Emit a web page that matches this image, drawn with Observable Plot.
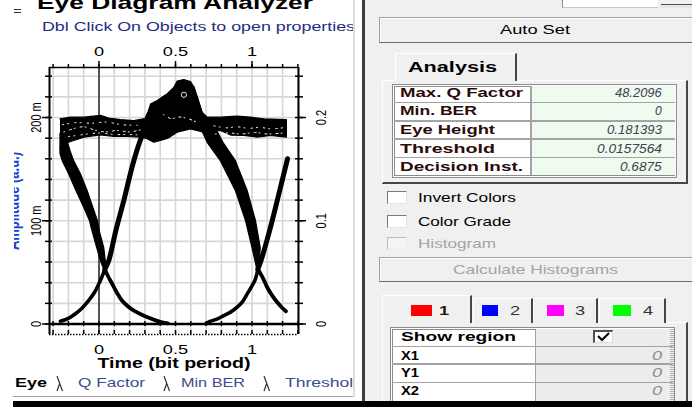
<!DOCTYPE html>
<html><head><meta charset="utf-8">
<script src="https://cdn.jsdelivr.net/npm/d3@7"></script>
<script src="https://cdn.jsdelivr.net/npm/@observablehq/plot@0.6"></script>
<style>
html,body{margin:0;padding:0;width:692px;height:407px;overflow:hidden;background:#fff;font-family:"Liberation Sans",Arial,sans-serif;}
#root{position:relative;width:692px;height:407px;overflow:hidden;}
.t{position:absolute;white-space:nowrap;}
</style></head>
<body><div id="root"></div>
<script>
// ---------------- chart data (t in bit periods, a in m-units) ----------------
const xGridTicks = [-0.3,-0.2,-0.1,0,0.1,0.2,0.3,0.4,0.5,0.6,0.7,0.8,0.9,1,1.1,1.2,1.3];
const xLabelTicks = [0, 0.5, 1];
const yGridTicks = [20,40,60,80,100,120,140,160,180,200,220,240];
const yMinorTicks = [0,20,40,60,80,100,120,140,160,180,200,220,240];
const yLabelTicks = [0, 100, 200];
const xTitle = "Time (bit period)";
const yTitle = "Amplitude (a.u.)";

// outline of the "1" level band with the overshoot bump (top edge, then bottom edge back)
const levelOneBand = [
 [-0.255,198.7],[-0.186,200.3],[-0.099,200.3],[0.01,202],[0.064,199.4],[0.14,198],[0.227,197],[0.3,199],
 [0.319,205],[0.337,213],[0.38,216.5],[0.446,223],[0.489,229],[0.511,235.3],[0.554,236.8],[0.598,234.9],
 [0.62,229.4],[0.642,219.7],[0.674,205],[0.707,200.3],[0.794,200.3],[0.903,201.3],[0.99,200.3],[1.077,198.7],[1.225,198],
 [1.225,181],[1.121,182.6],[1.034,181],[0.946,182.6],[0.86,183],[0.794,187.4],[0.72,186],[0.685,185.8],[0.598,189],
 [0.511,185.8],[0.45,180],[0.402,177.7],[0.358,176],[0.315,179.4],[0.271,181],[0.184,181.6],[0.097,181.6],[0.01,183.2],
 [-0.099,181],[-0.165,177.7],[-0.2,176],[-0.255,170]
];
// falling edge on the left (outline)
const fallLeft = [
 [-0.255,185],[-0.255,165],[-0.24,158],[-0.2,146],[-0.15,129],[-0.1,113],[-0.062,100],[-0.045,90],[-0.015,74],[0.012,60],[0.032,53],
 [0.045,56],[0.031,74],[0.002,90],[-0.01,100],[-0.045,115],[-0.077,129],[-0.12,145],[-0.165,158],[-0.19,168],[-0.21,178]
];
// falling edge from the bump on the right (outline)
const fallRight = [
 [0.62,230],[0.674,205],[0.76,190],[0.81,176],[0.892,158],[0.969,129],[1.023,100],[1.054,74],[1.046,58],
 [1.03,54],[1.0,74],[0.958,100],[0.892,129],[0.794,158],[0.707,176],[0.663,190],[0.63,214],[0.6,232]
];
const riseLeftFoot = [[-0.252,2.7],[-0.2,5.5],[-0.154,9.9],[-0.11,15.5],[-0.067,22.8],[-0.03,30.5],[-0.001,38.9],[0.02,46],[0.038,53]];
const riseLeftEdge = [[0.038,53],[0.064,61.5],[0.11,90.5],[0.162,119.6],[0.228,158.4],[0.282,182.6],[0.31,192]];
const decayLeft = [[0.038,53],[0.06,46],[0.086,39],[0.12,29.5],[0.15,22.8],[0.19,17],[0.228,13],[0.28,9],[0.326,6],[0.37,3.5],[0.413,1.7],[0.45,0.6]];
const riseRightFoot = [[0.70,0.5],[0.729,2.7],[0.775,5],[0.816,8.2],[0.86,11.5],[0.903,16.3],[0.94,22],[0.968,29],[1.0,37],[1.023,43.8],[1.038,53]];
const riseRightEdge = [[1.038,53],[1.06,62],[1.115,90.5],[1.165,119.6],[1.232,160]];
const decayRight = [[1.038,53],[1.07,45],[1.099,35.6],[1.13,28],[1.165,21],[1.195,16],[1.222,12.4]];
// light gaps inside the dense band
const gapA = [[-0.23,186],[-0.17,189],[-0.1,191],[-0.03,188],[0.04,186],[0.12,187.5],[0.2,186],[0.27,188]];
const gapB = [[-0.24,193],[-0.15,195],[-0.05,194.5],[0.05,195.5],[0.15,193],[0.25,192.5]];
const gapC = [[0.42,203],[0.47,199],[0.52,200.5],[0.58,199],[0.63,196]];
const gapD = [[0.75,192],[0.83,190],[0.9,191],[0.98,189.5],[1.05,190.5],[1.12,189],[1.2,190]];
const gapE = [[0.76,184],[0.85,185],[0.93,184],[1.02,185.5],[1.1,184],[1.2,185]];
const gapF = [[-0.2,181.5],[-0.1,183.5],[0,185],[0.1,183.5],[0.2,183.5],[0.28,183]];
const peakRing = [[0.555,222]];

// panel data
const titleText = "Eye Diagram Analyzer";
const subtitleText = "Dbl Click On Objects to open properties";
const bottomTabs = ["Eye", "Q Factor", "Min BER", "Threshold"];
const analysisLabels = ["Max. Q Factor", "Min. BER", "Eye Height", "Threshold", "Decision Inst."];
const analysisValues = ["48.2096", "0", "0.181393", "0.0157564", "0.6875"];
const optionLabels = ["Invert Colors", "Color Grade", "Histogram"];
const regionTabLabels = ["1", "2", "3", "4"];
const regionTabColors = ["#ff0000", "#0000ff", "#ff00ff", "#00ff00"];
const regionLabels = ["Show region", "X1", "Y1", "X2"];
const regionValues = ["", "0", "0", "0"];

// ---------------- plot ----------------
const XD = [-0.3235, 1.3039];
const YD = [-10.17, 248.43];
const PX = 1 / 153, PM = 1 / 1.0325;
const XY = {x: d => d[0], y: d => d[1]};
const SX = 1.4;

const svg = Plot.plot({
  width: 353, height: 407,
  marginLeft: 49, marginRight: 55, marginTop: 67, marginBottom: 73,
  style: {fontFamily: "'Liberation Sans', Arial, sans-serif", background: "transparent", overflow: "visible"},
  x: {domain: XD},
  y: {domain: YD},
  marks: [
    Plot.ruleX(xGridTicks, {stroke: "#d6d6d6", strokeWidth: 1.6}),
    Plot.ruleY(yGridTicks, {stroke: "#d6d6d6", strokeWidth: 1.6}),
    Plot.ruleX([0], {stroke: "#1a1a1a", strokeWidth: 1.4}),
    Plot.line(levelOneBand, {...XY, fill: "#000", stroke: "#000", strokeWidth: 1.2}),
    Plot.line(fallLeft, {...XY, fill: "#000", stroke: "#000", strokeWidth: 1.2}),
    Plot.line(fallRight, {...XY, fill: "#000", stroke: "#000", strokeWidth: 1.2}),
    Plot.line(riseLeftFoot, {...XY, stroke: "#000", strokeWidth: 3.6, curve: "catmull-rom"}),
    Plot.line(riseLeftEdge, {...XY, stroke: "#000", strokeWidth: 5, curve: "catmull-rom"}),
    Plot.line(decayLeft, {...XY, stroke: "#000", strokeWidth: 3.8, curve: "catmull-rom"}),
    Plot.line(riseRightFoot, {...XY, stroke: "#000", strokeWidth: 3.6, curve: "catmull-rom"}),
    Plot.line(riseRightEdge, {...XY, stroke: "#000", strokeWidth: 5, curve: "catmull-rom"}),
    Plot.line(decayRight, {...XY, stroke: "#000", strokeWidth: 3.8, curve: "catmull-rom"}),
    ...[gapA, gapB, gapC, gapD, gapE, gapF].map((g, i) => Plot.line(g, {...XY, stroke: "#fff", strokeWidth: 1, strokeDasharray: i % 2 ? "1.5,4,1,6" : "1,5,2,3", curve: "catmull-rom"})),
    Plot.dot(peakRing, {...XY, r: 2.6, stroke: "#fff", strokeWidth: 0.9, fill: "none"}),
    Plot.ruleY([0], {stroke: "#000", strokeWidth: 2.6}),
    // frame
    Plot.ruleX([XD[0]], {stroke: "#000", strokeWidth: 2}),
    Plot.ruleX([XD[1]], {stroke: "#000", strokeWidth: 2}),
    Plot.ruleY([YD[1]], {stroke: "#000", strokeWidth: 1.4}),
    Plot.ruleY([YD[0]], {stroke: "#000", strokeWidth: 1.5, strokeDasharray: "1.5,1.5"}),
    // ticks & axes
    Plot.axisX(xGridTicks, {anchor: "top", tickSize: 4, strokeWidth: 1.5, tickFormat: () => ""}),
    Plot.axisX(xLabelTicks, {anchor: "top", tickSize: 7, tickPadding: 5, strokeWidth: 1.5, fontSize: 13, tickFormat: d => String(d)}),
    Plot.axisX(xLabelTicks, {anchor: "bottom", tickSize: 0, tickPadding: 10.5, fontSize: 13, tickFormat: d => String(d)}),
    Plot.ruleX(xGridTicks, {y1: YD[0], y2: YD[0] + 4 * PM, stroke: "#000", strokeWidth: 1.5}),
    Plot.ruleX(xGridTicks, {y1: -2.5 * PM, y2: 2.5 * PM, stroke: "#000", strokeWidth: 1.5}),
    Plot.axisY(yMinorTicks, {anchor: "left", tickSize: 4, strokeWidth: 1.5, tickFormat: () => ""}),
    Plot.axisY(yLabelTicks, {anchor: "left", tickSize: 7, tickPadding: 2, strokeWidth: 1.5, tickRotate: -90, textAnchor: "middle", lineAnchor: "bottom", fontSize: 11, tickFormat: d => d === 0 ? "0" : `${d} m`}),
    Plot.ruleY(yMinorTicks, {x1: XD[0], x2: XD[0] + 3 * PX, stroke: "#000", strokeWidth: 1.5}),
    Plot.axisY(yMinorTicks, {anchor: "right", tickSize: 4, strokeWidth: 1.5, tickFormat: () => ""}),
    Plot.axisY(yLabelTicks, {anchor: "right", tickSize: 7, tickPadding: 10, strokeWidth: 1.5, tickRotate: -90, textAnchor: "middle", lineAnchor: "top", fontSize: 11, tickFormat: d => String(d / 1000)}),
    Plot.ruleY(yMinorTicks, {x1: XD[1] - 3 * PX, x2: XD[1], stroke: "#000", strokeWidth: 1.5}),
    Plot.text([xTitle], {text: d => d, frameAnchor: "bottom", dy: 29, lineAnchor: "middle", textAnchor: "middle", fontWeight: "bold", fontSize: 14, fill: "#000"}),
    Plot.text([yTitle], {text: d => d, frameAnchor: "left", dx: -31, rotate: -90, textAnchor: "middle", lineAnchor: "bottom", fill: "#1e3fd0", fontWeight: "bold", fontSize: 13})
  ]
});

const root = document.getElementById("root");
const wrap = document.createElement("div");
wrap.style.cssText = "position:absolute;left:0;top:0;";
wrap.appendChild(svg);
root.appendChild(wrap);

// stretch svg texts horizontally like the reference screenshot
svg.querySelectorAll("text").forEach(el => {
  const tr = el.getAttribute("transform");
  if (tr) {
    if (/rotate\(/.test(tr)) el.setAttribute("transform", tr.replace(/rotate\(/, `scale(${SX},1) rotate(`));
    else el.setAttribute("transform", tr + ` scale(${SX},1)`);
  } else {
    const x = +el.getAttribute("x") || 0, y = +el.getAttribute("y") || 0;
    el.setAttribute("transform", `translate(${x},${y}) scale(${SX},1) translate(${-x},${-y})`);
  }
});

// ---------------- UI chrome helpers ----------------
function box(x, y, w, h, css) {
  const d = document.createElement("div");
  d.style.cssText = `position:absolute;left:${x}px;top:${y}px;width:${w}px;height:${h}px;box-sizing:border-box;` + (css || "");
  root.appendChild(d);
  return d;
}
function T(str, o) {
  const d = document.createElement("div");
  d.className = "t";
  d.style.fontSize = o.size + "px";
  d.style.lineHeight = o.size + "px";
  d.style.top = (o.cy - 0.49 * o.size) + "px";
  d.style.left = "0px";
  if (o.weight) d.style.fontWeight = o.weight;
  if (o.italic) d.style.fontStyle = "italic";
  d.style.color = o.color || "#000";
  const s = document.createElement("span");
  s.textContent = str;
  s.style.display = "inline-block";
  s.style.transformOrigin = "0 0";
  d.appendChild(s);
  root.appendChild(d);
  const nat = s.getBoundingClientRect().width;
  const sx = o.w ? o.w / nat : SX;
  s.style.transform = `scaleX(${sx})`;
  let left = o.x;
  if (o.anchor === "end") left = o.x - nat * sx;
  else if (o.anchor === "middle") left = o.x - nat * sx / 2;
  d.style.left = left + "px";
  return d;
}

// left cover strip
box(0, 0, 14, 407, "background:#fff");
// menu icon
box(14, 8.8, 6.5, 1.6, "background:#333");
box(14, 11.6, 6.5, 1.6, "background:#333");
// title + subtitle
T(titleText, {x: 37, cy: 1.8, size: 19, weight: "bold", w: 276});
T(subtitleText, {x: 42, cy: 26, size: 13, w: 313, color: "#1f2c80"});
// bottom tabs
T(bottomTabs[0], {x: 15, cy: 382, size: 13, weight: "bold", w: 32});
T(bottomTabs[1], {x: 78, cy: 382, size: 13, w: 67, color: "#3d4d8e"});
T(bottomTabs[2], {x: 181, cy: 382, size: 13, w: 64, color: "#3d4d8e"});
T(bottomTabs[3], {x: 285, cy: 382, size: 13, w: 78, color: "#3d4d8e"});
box(13, 395.5, 349, 1.5, "background:#a0a0a0");

// divider
box(352.5, 0, 2.5, 397, "background:#dcdcdc");
box(355, 0, 7, 401, "background:#fff");
box(361.5, 0, 3, 401, "background:#3c3c3c");
box(364.5, 0, 327.5, 401, "background:#f0f0f0");

// top partial controls
box(562, -2, 96, 9.5, "background:#fff;border-left:1px solid #8a8a8a;border-bottom:1px solid #c8c8c8");
box(661, 4, 31, 4, "border-top:1.5px solid #505050;background:#e6e6e6");

const BTN = "background:#f0f0f0;border:1px solid #a0a0a0;border-bottom:1.5px solid #6a6a6a;box-shadow:inset 1px 1px 0 #fff";
box(379, 17, 320, 25.5, BTN);
T("Auto Set", {x: 535, anchor: "middle", cy: 29.7, size: 13, w: 70});

// Analysis panel
const TABCSS = "background:#f0f0f0;border-top:1px solid #fff;border-left:1px solid #fff;border-right:2px solid #454545";
box(382, 80, 306, 103.5, "border-top:1px solid #fff;border-left:1px solid #fff;border-right:2.5px solid #454545;border-bottom:2px solid #454545");
box(395, 53, 122, 28, TABCSS);
T("Analysis", {x: 408, cy: 66.7, size: 14, weight: "bold", w: 89});

box(392, 84, 285, 94, "border:3px double #8c8c8c;background:#fff");
box(531, 86, 143.5, 89, "background:#eefbee");
[101.7, 120, 138.3, 156.7].forEach(y => box(394, y, 281, 1.5, "background:#a4a4a4"));
box(530, 86, 1.5, 89, "background:#a4a4a4");
const aCy = [92, 110.5, 129.5, 148, 166.7];
const aLW = [123, 77, 95, 95, 123];
const aVW = [46.7, 6.7, 55, 65, 41.7];
analysisLabels.forEach((s, i) => T(s, {x: 400, cy: aCy[i], size: 13, weight: "bold", w: aLW[i], color: "#2b0b0b"}));
analysisValues.forEach((s, i) => T(s, {x: 662, anchor: "end", cy: aCy[i], size: 13, italic: true, w: aVW[i], color: "#404050"}));

// option checkboxes
const oCy = [197.5, 221, 243.7];
const oW = [98, 93, 78];
optionLabels.forEach((s, i) => {
  const dis = i === 2;
  box(387, oCy[i] - 6.3, 19.5, 13, dis
    ? "background:#f4f4f4;border-top:1px solid #bcbcbc;border-left:1px solid #bcbcbc;border-right:1px solid #eee;border-bottom:1px solid #eee"
    : "background:#fff;border-top:1px solid #7a7a7a;border-left:1px solid #7a7a7a;border-right:1px solid #e4e4e4;border-bottom:1px solid #e4e4e4");
  T(s, {x: 418, cy: oCy[i], size: 13, w: oW[i], color: dis ? "#a4a4a4" : "#000"});
});

box(379, 257, 320, 25, BTN);
T("Calculate Histograms", {x: 535, anchor: "middle", cy: 269.7, size: 13, w: 165, color: "#a4a4a4"});

// region panel + tabs
box(382, 322, 306, 90, "border-top:1px solid #fff;border-left:1px solid #fff;border-right:2.5px solid #454545");
const tabX = [[382, 90, 295], [473, 59.5, 298], [533, 65, 298], [599, 67, 298]];
tabX.forEach(([x, w, y]) => box(x, y, w, 323 - y, TABCSS));
const sqX = [[410.7, 21], [481.7, 16.6], [547, 17], [613, 17.7]];
const digX = [439, 510, 575, 643];
regionTabColors.forEach((c, i) => {
  box(sqX[i][0], 304.5, sqX[i][1], 11, `background:${c}`);
  T(regionTabLabels[i], {x: digX[i], cy: 310.5, size: 13, weight: i === 0 ? "bold" : "normal", color: i === 0 ? "#2a1a0a" : "#333"});
});

box(390, 327, 285, 85, "border:3px double #8c8c8c;background:#fff");
box(535, 329, 135, 80, "background:#ececec");
box(670, 329, 4, 80, "background:repeating-linear-gradient(#b4b4b4 0 1px,#eee 1px 2px)");
[345.7, 363.3, 381.7].forEach(y => box(392, y, 281, 1.5, "background:#a4a4a4"));
box(534.5, 329, 1.5, 80, "background:#a4a4a4");
const rCy = [336.7, 355, 372.7, 390.7];
const rLW = [115, 18, 18, 18];
regionLabels.forEach((s, i) => T(s, {x: 401, cy: rCy[i], size: 13, weight: "bold", w: rLW[i]}));
regionValues.forEach((s, i) => { if (s) T(s, {x: 662, anchor: "end", cy: rCy[i], size: 13, italic: true, color: "#8a8a8a"}); });
box(593, 330, 20, 13, "background:#fff;border-top:2px solid #505050;border-left:2px solid #505050;border-right:1px solid #ddd;border-bottom:1px solid #ddd");

// decorative overlay (tab edges, check mark)
const ov = d3.select(root).append("svg")
  .attr("width", 692).attr("height", 407)
  .style("position", "absolute").style("left", "0px").style("top", "0px");
[57, 164, 264].forEach(x => {
  ov.append("path").attr("d", `M${x},376 L${x + 5.5},391 M${x + 2.7},383.5 L${x},391`)
    .attr("stroke", "#333").attr("stroke-width", 1.2).attr("fill", "none");
});
ov.append("path").attr("d", "M598,336 L602,340 L609,333")
  .attr("stroke", "#000").attr("stroke-width", 2).attr("fill", "none");

// bottom black bar
box(13, 401, 679, 6, "background:#000");
</script>
</body></html>
